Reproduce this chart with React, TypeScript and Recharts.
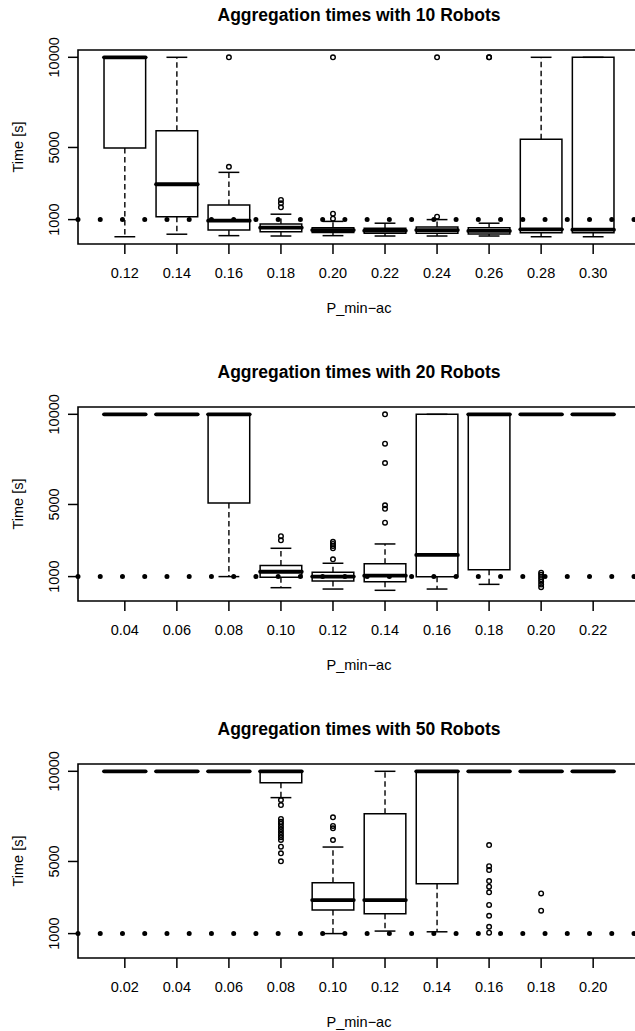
import React from 'react';
import { ComposedChart, XAxis, YAxis, ReferenceArea, ReferenceLine, Scatter } from 'recharts';

// ---------- data ----------
const labels10 = ['0.12', '0.14', '0.16', '0.18', '0.20', '0.22', '0.24', '0.26', '0.28', '0.30'];
const q1_10 = [4970, 1160, 420, 330, 290, 240, 240, 200, 270, 270];
const med10 = [10000, 2960, 940, 550, 420, 385, 420, 370, 460, 440];
const q3_10 = [10000, 5930, 1810, 760, 550, 520, 590, 550, 5460, 10000];
const lo10 = [50, 190, 110, 90, 110, 90, 90, 90, 50, 50];
const hi10 = [10000, 10000, 3620, 1300, 900, 800, 1000, 800, 10000, 10000];
const out10 = [[], [], [3930, 10000], [1680, 1900, 2090], [1050, 1330, 10000], [], [1160, 10000], [10000, 10000], [], []];

const labels20 = ['0.04', '0.06', '0.08', '0.10', '0.12', '0.14', '0.16', '0.18', '0.20', '0.22'];
const q1_20 = [10000, 10000, 5080, 960, 760, 720, 990, 1380, 10000, 10000];
const med20 = [10000, 10000, 10000, 1270, 1000, 1050, 2200, 10000, 10000, 10000];
const q3_20 = [10000, 10000, 10000, 1620, 1240, 1710, 10000, 10000, 10000, 10000];
const lo20 = [10000, 10000, 1000, 385, 310, 240, 310, 570, 10000, 10000];
const hi20 = [10000, 10000, 10000, 2570, 1740, 2810, 10000, 10000, 10000, 10000];
const out20 = [[], [], [], [3010, 3240], [1960, 2570, 2700, 2810, 2930], [3990, 4760, 4950, 7300, 8370, 10000], [], [], [1220, 1100, 980, 860, 720, 560, 410], []];

const labels50 = ['0.02', '0.04', '0.06', '0.08', '0.10', '0.12', '0.14', '0.16', '0.18', '0.20'];
const q1_50 = [10000, 10000, 10000, 9370, 2310, 2100, 3770, 10000, 10000, 10000];
const med50 = [10000, 10000, 10000, 10000, 2860, 2860, 10000, 10000, 10000, 10000];
const q3_50 = [10000, 10000, 10000, 10000, 3820, 7650, 10000, 10000, 10000, 10000];
const lo50 = [10000, 10000, 10000, 8540, 1000, 1140, 1100, 10000, 10000, 10000];
const hi50 = [10000, 10000, 10000, 10000, 5800, 10000, 10000, 10000, 10000, 10000];
const out50 = [[], [], [], [8410, 8130, 7360, 7200, 7080, 6930, 6780, 6630, 6480, 6340, 6190, 5820, 5450, 5010], [7450, 6970, 6840, 6190], [], [], [5910, 4740, 4520, 3910, 3600, 3290, 2590, 1990, 1380, 1050], [3230, 2270], []];

const yTicks = [1000, 5000, 10000];
const refLevel = 1000;

// ---------- layout / style ----------
const FONT = '"Liberation Sans", Arial, Helvetica, sans-serif';
const Y_DOMAIN: [number, number] = [-353, 10405];
const X_DOMAIN: [number, number] = [0.1, 10.9];
const CHART_W = 645;
const CHART_H = 330;
const PANEL_STEP = 357.2;
const BOX_HALF = 0.4;
const CAP_HALF = 0.2;

type PanelProps = {
  title: string;
  labels: string[];
  q1: number[];
  med: number[];
  q3: number[];
  lo: number[];
  hi: number[];
  outliers: number[][];
  top: number;
};

function Panel({ title, labels, q1, med, q3, lo, hi, outliers, top }: PanelProps) {
  const positions = labels.map((_, i) => i + 1);
  const outlierData = outliers.flatMap((arr, i) => arr.map((v) => ({ x: i + 1, y: v })));

  const xTick = (props: any) => (
    <text x={props.x} y={props.y + 23.7} textAnchor="middle" fontSize={14.5} fontFamily={FONT} fill="#000">
      {labels[Math.round(props.payload.value) - 1]}
    </text>
  );
  const yTick = (props: any) => {
    const bx = props.x - 9;
    return (
      <text x={bx} y={props.y} transform={`rotate(-90, ${bx}, ${props.y})`} textAnchor="middle" fontSize={14.5} fontFamily={FONT} fill="#000">
        {props.payload.value}
      </text>
    );
  };

  return (
    <div style={{ position: 'absolute', left: 0, top, width: CHART_W, height: CHART_H }}>
      <ComposedChart width={CHART_W} height={CHART_H} margin={{ top: 50, right: 5, bottom: 16, left: 0 }} data={outlierData}>
        <XAxis
          type="number"
          dataKey="x"
          domain={X_DOMAIN}
          ticks={positions}
          interval={0}
          allowDataOverflow
          height={70}
          tickSize={10}
          tickMargin={0}
          axisLine={false}
          tickLine={{ stroke: '#000', strokeWidth: 1.5 }}
          tick={xTick}
        />
        <YAxis
          type="number"
          dataKey="y"
          domain={Y_DOMAIN}
          ticks={yTicks}
          interval={0}
          allowDataOverflow
          width={78}
          tickSize={10}
          tickMargin={0}
          axisLine={false}
          tickLine={{ stroke: '#000', strokeWidth: 1.5 }}
          tick={yTick}
        />
        {/* whiskers */}
        {positions.map((p, i) =>
          hi[i] > q3[i] ? (
            <ReferenceLine key={`wh${i}`} segment={[{ x: p, y: q3[i] }, { x: p, y: hi[i] }]} stroke="#000" strokeWidth={1.4} strokeDasharray="5.5 3.5" ifOverflow="visible" />
          ) : null
        )}
        {positions.map((p, i) =>
          lo[i] < q1[i] ? (
            <ReferenceLine key={`wl${i}`} segment={[{ x: p, y: q1[i] }, { x: p, y: lo[i] }]} stroke="#000" strokeWidth={1.4} strokeDasharray="5.5 3.5" ifOverflow="visible" />
          ) : null
        )}
        {positions.map((p, i) => (
          <ReferenceLine key={`ch${i}`} segment={[{ x: p - CAP_HALF, y: hi[i] }, { x: p + CAP_HALF, y: hi[i] }]} stroke="#000" strokeWidth={1.5} ifOverflow="visible" />
        ))}
        {positions.map((p, i) => (
          <ReferenceLine key={`cl${i}`} segment={[{ x: p - CAP_HALF, y: lo[i] }, { x: p + CAP_HALF, y: lo[i] }]} stroke="#000" strokeWidth={1.5} ifOverflow="visible" />
        ))}
        {/* boxes */}
        {positions.map((p, i) => (
          <ReferenceArea key={`bx${i}`} x1={p - BOX_HALF} x2={p + BOX_HALF} y1={q1[i]} y2={q3[i]} fill="#fff" fillOpacity={1} stroke="#000" strokeWidth={1.5} ifOverflow="visible" />
        ))}
        {/* medians */}
        {positions.map((p, i) => (
          <ReferenceLine key={`md${i}`} segment={[{ x: p - BOX_HALF, y: med[i] }, { x: p + BOX_HALF, y: med[i] }]} stroke="#000" strokeWidth={3.8} strokeLinecap="round" ifOverflow="visible" />
        ))}
        {/* outliers */}
        <Scatter
          data={outlierData}
          dataKey="y"
          isAnimationActive={false}
          shape={(pt: any) => <circle cx={pt.cx} cy={pt.cy} r={2.3} fill="none" stroke="#000" strokeWidth={1.4} />}
        />
        {/* dotted reference line */}
        <ReferenceLine y={refLevel} stroke="#000" strokeWidth={5} strokeDasharray="0 22.24" strokeLinecap="round" ifOverflow="visible" />
        {/* plot frame */}
        <ReferenceArea x1={X_DOMAIN[0]} x2={X_DOMAIN[1]} y1={Y_DOMAIN[0]} y2={Y_DOMAIN[1]} fill="none" fillOpacity={0} stroke="#000" strokeWidth={1.6} ifOverflow="visible" />
      </ComposedChart>
      <svg width={CHART_W} height={CHART_H} style={{ position: 'absolute', left: 0, top: 0, pointerEvents: 'none' }}>
        <text x={359} y={20.7} textAnchor="middle" fontFamily={FONT} fontWeight="bold" fontSize={17.5} fill="#000">
          {title}
        </text>
        <text x={359} y={312.7} textAnchor="middle" fontFamily={FONT} fontSize={14.5} fill="#000">
          P_min−ac
        </text>
        <text x={22.5} y={147} transform="rotate(-90, 22.5, 147)" textAnchor="middle" fontFamily={FONT} fontSize={14.5} fill="#000">
          Time [s]
        </text>
      </svg>
    </div>
  );
}

export default function App() {
  return (
    <div style={{ position: 'absolute', left: 0, top: 0, width: 635, height: 1031, overflow: 'hidden', background: '#fff' }}>
      <Panel title="Aggregation times with 10 Robots" labels={labels10} q1={q1_10} med={med10} q3={q3_10} lo={lo10} hi={hi10} outliers={out10} top={0} />
      <Panel title="Aggregation times with 20 Robots" labels={labels20} q1={q1_20} med={med20} q3={q3_20} lo={lo20} hi={hi20} outliers={out20} top={PANEL_STEP} />
      <Panel title="Aggregation times with 50 Robots" labels={labels50} q1={q1_50} med={med50} q3={q3_50} lo={lo50} hi={hi50} outliers={out50} top={PANEL_STEP * 2} />
    </div>
  );
}
